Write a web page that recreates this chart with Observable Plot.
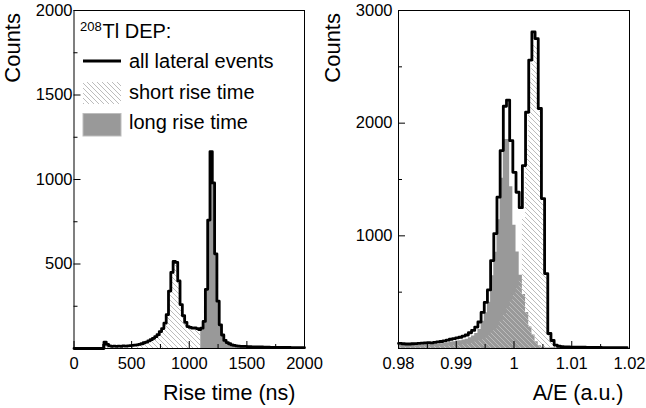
<!DOCTYPE html>
<html><head><meta charset="utf-8">
<script src="https://cdn.jsdelivr.net/npm/d3@7"></script>
<script src="https://cdn.jsdelivr.net/npm/@observablehq/plot@0.6"></script>
<style>
body{margin:0;background:#fff;}
#wrap{display:flex;width:646px;height:408px;overflow:hidden;}
svg{display:block;overflow:visible;}
</style></head><body><div id="wrap"></div>
<script>
const FONT = "'Liberation Sans', Arial, Helvetica, sans-serif";

// ---- Left panel: rise time histogram (20 ns bins starting at 0 ns) ----
const riseBinStart = 0;
const riseBinWidth = 20;
const riseCut = 1100; // short rise time below, long rise time above
const riseCounts = [
  0,0,0,0,0,0,0,0,0,0,
  0,0,0,38,25,15,13,14,12,14,
  13,15,14,16,17,18,20,22,25,28,
  34,38,45,52,60,70,82,100,118,150,
  200,340,450,515,510,400,260,195,155,130,
  125,120,122,118,112,120,160,350,760,1165,
  980,560,280,140,80,48,35,28,22,18,
  16,14,13,12,12,11,11,10,10,9,
  9,9,8,8,8,7,7,7,7,6,
  6,6,6,6,5,5,5,5,5,5
];
const riseDomain = [0, 2000];
const riseCountDomain = [0, 2000];
const riseXTicks = [0, 500, 1000, 1500, 2000];
const riseXMinor = [250, 750, 1250, 1750];
const riseYTicks = [500, 1000, 1500, 2000];
const riseYMinor = [250, 750, 1250, 1750];

// ---- Right panel: A/E histogram (bins of 0.00055 starting at 0.98) ----
const aeBinStart = 0.98;
const aeBinWidth = 0.00055;
const aeShort = [
  14,13,12,12,13,13,14,15,15,16,
  15,17,18,19,21,23,25,27,29,31,
  34,38,44,50,57,66,78,92,110,135,
  165,200,245,295,350,410,470,530,600,1144,
  1777,2370,2690,2690,2105,1320,660,128,64,22,
  11,7,6,5,5,5,4,4,4,3,
  3,3,3,3,2,2,2,2,2,2,2,2
];
const aeLong = [
  31,29,28,28,29,31,32,33,35,36,
  35,38,40,43,47,52,57,61,66,69,
  76,82,96,110,133,169,242,318,410,645,
  855,1143,1512,1855,1855,1435,1094,857,650,480,
  320,190,120,60,25,11,5,5,7,8,
  9,9,9,9,8,8,8,8,7,7,
  7,6,6,6,6,6,6,6,5,5,5,5
];
const aeDomain = [0.98, 1.02];
const aeCountDomain = [0, 3000];
const aeXTicks = [0.98, 0.99, 1, 1.01, 1.02];
const aeXMinor = [0.985, 0.995, 1.005, 1.015];
const aeYTicks = [1000, 2000, 3000];
const aeYMinor = [500, 1500, 2500];

const legendTitleSup = "208";
const legendTitle = "Tl DEP:";
const legendLabels = ["all lateral events", "short rise time", "long rise time"];

// step points of a histogram (bins from i0 to i1-1)
function steps(values, start, width, i0 = 0, i1 = values.length) {
  const pts = [];
  for (let i = i0; i < i1; i++) {
    pts.push({x: start + i * width, y: values[i]});
    pts.push({x: start + (i + 1) * width, y: values[i]});
  }
  return pts;
}

const cutIndex = Math.round((riseCut - riseBinStart) / riseBinWidth);
const riseAll = steps(riseCounts, riseBinStart, riseBinWidth);
const riseShortPts = steps(riseCounts, riseBinStart, riseBinWidth, 0, cutIndex);
const riseLongPts = steps(riseCounts, riseBinStart, riseBinWidth, cutIndex);

const aeTotal = aeShort.map((v, i) => v + aeLong[i]);
const aeShortPts = steps(aeShort, aeBinStart, aeBinWidth);
const aeLongPts = steps(aeLong, aeBinStart, aeBinWidth);
const aeAllPts = steps(aeTotal, aeBinStart, aeBinWidth);

const TICK = 16.5, TITLE = 22;

function axes(xT, xM, yT, yM, fmt, yPad) {
  return [
    Plot.frame({stroke: "black", strokeWidth: 1}),
    Plot.axisY(yT, {tickSize: 7, dx: 7, fill: "none", stroke: "black", label: null}),
    Plot.axisY(yM, {tickSize: 4, dx: 4, fill: "none", stroke: "black", label: null}),
    Plot.axisY(yT, {tickSize: 0, tickPadding: yPad, fontSize: TICK, fill: "black", label: null, tickFormat: d => String(d)}),
    Plot.axisX(xT, {tickSize: 7, dy: -7, fill: "none", stroke: "black", label: null}),
    Plot.axisX(xM, {tickSize: 4, dy: -4, fill: "none", stroke: "black", label: null}),
    Plot.axisX(xT, {tickSize: 0, tickPadding: 8.5, fontSize: TICK, fill: "black", label: null, tickFormat: fmt})
  ];
}

const hatchDef = id => `<pattern id="${id}" patternUnits="userSpaceOnUse" width="5" height="5">
  <path d="M-1,-1 L6,6 M-1,4 L1,6 M4,-1 L6,1" stroke="#bcbcbc" stroke-width="1"/></pattern>`;

const area = (pts, fill) => Plot.areaY(pts, {x: "x", y1: 0, y2: "y", fill, curve: "linear"});

const left = Plot.plot({
  width: 323, height: 408,
  marginLeft: 73.5, marginRight: 19, marginTop: 10, marginBottom: 60,
  x: {domain: riseDomain},
  y: {domain: riseCountDomain},
  style: {fontFamily: FONT, color: "black", background: "white", overflow: "visible"},
  marks: [
    area(riseShortPts, "url(#hatchL)"),
    area(riseLongPts, "#999999"),
    Plot.line(riseAll, {x: "x", y: "y", stroke: "black", strokeWidth: 2.8}),
    ...axes(riseXTicks, riseXMinor, riseYTicks, riseYMinor, d => String(d), 1.5),
    Plot.text(["Counts"], {text: d => d, frameAnchor: "top-left", rotate: -90, textAnchor: "end", dx: -70, dy: 2.5, fontSize: TITLE, fill: "black"}),
    Plot.text(["Rise time (ns)"], {text: d => d, frameAnchor: "bottom-right", textAnchor: "end", lineAnchor: "bottom", dx: -9, dy: 51, fontSize: 21.5, fill: "black"})
  ]
});

const right = Plot.plot({
  width: 323, height: 408,
  marginLeft: 75, marginRight: 17, marginTop: 10, marginBottom: 60,
  x: {domain: aeDomain},
  y: {domain: aeCountDomain},
  style: {fontFamily: FONT, color: "black", background: "white", overflow: "visible"},
  marks: [
    area(aeLongPts, "#999999"),
    area(aeShortPts, "url(#hatchR)"),
    Plot.line(aeAllPts, {x: "x", y: "y", stroke: "black", strokeWidth: 2.8}),
    ...axes(aeXTicks, aeXMinor, aeYTicks, aeYMinor, d => (d === 1 ? "1" : d.toFixed(2)), 6),
    Plot.text(["Counts"], {text: d => d, frameAnchor: "top-left", rotate: -90, textAnchor: "end", dx: -74, dy: 2.5, fontSize: TITLE, fill: "black"}),
    Plot.text(["A/E (a.u.)"], {text: d => d, frameAnchor: "bottom-right", textAnchor: "end", lineAnchor: "bottom", dx: -6, dy: 51, fontSize: 21.5, fill: "black"})
  ]
});

d3.select(left).insert("defs", ":first-child").html(hatchDef("hatchL"));
d3.select(right).insert("defs", ":first-child").html(hatchDef("hatchR"));

// legend (left panel)
const lg = d3.select(left).append("g").attr("font-family", FONT).attr("fill", "black").attr("text-anchor", "start");
lg.append("text").attr("x", 80).attr("y", 31).attr("font-size", 13).text(legendTitleSup);
lg.append("text").attr("x", 102.5).attr("y", 37.5).attr("font-size", 20).text(legendTitle);
lg.append("line").attr("x1", 83).attr("x2", 121).attr("y1", 61).attr("y2", 61)
  .attr("stroke", "black").attr("stroke-width", 3);
lg.append("rect").attr("x", 83).attr("y", 82).attr("width", 38).attr("height", 22).attr("fill", "url(#hatchL)");
lg.append("rect").attr("x", 83).attr("y", 113.5).attr("width", 38).attr("height", 22.5).attr("fill", "#999999")
  .attr("stroke", "#bdbdbd").attr("stroke-width", 1);
const baselines = [68.3, 99, 128.7];
legendLabels.forEach((s, i) => {
  lg.append("text").attr("x", 129).attr("y", baselines[i]).attr("font-size", 20).text(s);
});

document.getElementById("wrap").append(left, right);
</script>
</body></html>
